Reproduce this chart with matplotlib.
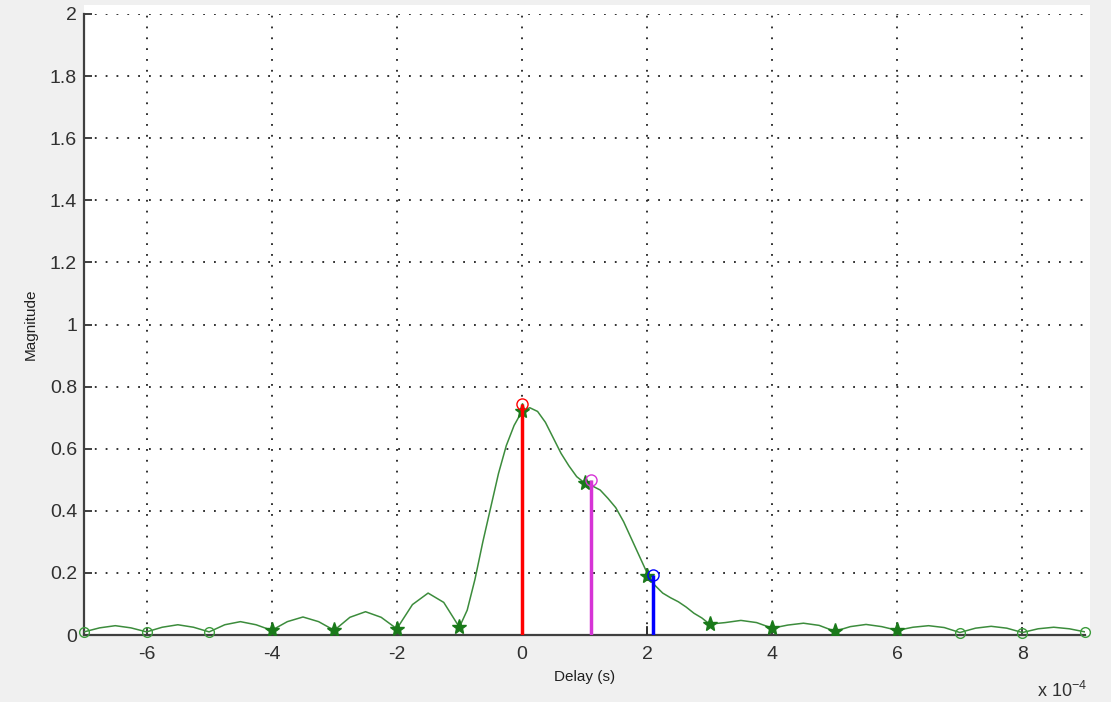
import matplotlib
matplotlib.use("Agg")
import matplotlib.pyplot as plt
from matplotlib.patches import Rectangle

# delay axis in units of 1e-4 s; side lobes read every 0.25, main lobe every 0.125
curve_x = (
    [-7 + i * 0.25 for i in range(24)]      # -7 .. -1.25
    + [-1 + i * 0.125 for i in range(33)]   # -1 .. 3
    + [3.25 + i * 0.25 for i in range(24)]  # 3.25 .. 9
)
curve_y = [
    0.010, 0.023, 0.030, 0.023,   # -7 .. -6.25
    0.010, 0.025, 0.033, 0.025,   # -6
    0.010, 0.033, 0.043, 0.033,   # -5
    0.015, 0.043, 0.058, 0.043,   # -4
    0.015, 0.057, 0.075, 0.057,   # -3
    0.020, 0.098, 0.135, 0.105,   # -2
    # -1 .. 3 step 0.125
    0.025, 0.080, 0.180, 0.300, 0.410, 0.520, 0.610, 0.675,
    0.720, 0.732, 0.720, 0.685, 0.635, 0.585, 0.545, 0.510,
    0.490, 0.480, 0.467, 0.440, 0.410, 0.365, 0.310, 0.255,
    0.200, 0.160, 0.135, 0.120, 0.107, 0.090, 0.070, 0.055,
    0.035,
    # 3.25 .. 9
    0.040, 0.047, 0.040,
    0.022, 0.032, 0.038, 0.031,   # 4
    0.012, 0.027, 0.034, 0.027,   # 5
    0.015, 0.025, 0.030, 0.024,   # 6
    0.008, 0.022, 0.028, 0.022,   # 7
    0.008, 0.020, 0.025, 0.020,   # 8
    0.010,                        # 9
]

star_x = [-4, -3, -2, -1, 0, 1, 2, 3, 4, 5, 6]
star_y = [0.015, 0.015, 0.020, 0.025, 0.720, 0.490, 0.190, 0.035, 0.022, 0.012, 0.015]
ring_x = [-7, -6, -5, 7, 8, 9]
ring_y = [0.010, 0.010, 0.010, 0.008, 0.008, 0.010]

path_x = [0.0, 1.1, 2.1]
path_y = [0.745, 0.50, 0.193]
path_colors = ["#ff0000", "#d633d6", "#0000ff"]
small_x = [2.0]
small_y = [0.03]

plt.rcParams["font.family"] = ["Liberation Sans", "DejaVu Sans"]

fig = plt.figure(figsize=(11.11, 7.02), dpi=100, facecolor="#f0f0f0")
fig.patches.append(Rectangle((84 / 1111, 1 - 635 / 702), (1090 - 84) / 1111, (635 - 5) / 702,
                             transform=fig.transFigure, facecolor="white", edgecolor="none", zorder=-5))
ax = fig.add_axes([84 / 1111, 1 - 635 / 702, 1001 / 1111, 621 / 702])
ax.set_zorder(2)
ax.set_facecolor("white")

s = 1e-4
ax.plot([v * s for v in curve_x], curve_y, color="#3c8c3c", lw=1.1, zorder=3)
ax.plot([v * s for v in star_x], star_y, ls="none", marker="*", ms=11,
        color="#1a7a1a", mec="#1a7a1a", zorder=4)
ax.plot([v * s for v in ring_x], ring_y, ls="none", marker="o", ms=7,
        mfc="none", mec="#3c9c3c", mew=1.0, zorder=4, clip_on=False)

for x, y in zip(small_x, small_y):
    ax.vlines(x * s, 0, y, color="#303030", lw=1.2, zorder=3)
for x, y, c in zip(path_x, path_y, path_colors):
    ax.vlines(x * s, 0, y, color=c, lw=2.5, zorder=5)
    ax.plot([x * s], [y], ls="none", marker="o", ms=8, mfc="none", mec=c, mew=1.0, zorder=6)

ax.set_xlim(-7e-4, 9e-4)
ax.set_ylim(0, 2)
ax.set_xticks([v * s for v in range(-6, 9, 2)])
ax.set_xticklabels([str(v) for v in range(-6, 9, 2)])
yt = [0, 0.2, 0.4, 0.6, 0.8, 1, 1.2, 1.4, 1.6, 1.8, 2]
ax.set_yticks(yt)
ax.set_yticklabels(["0", "0.2", "0.4", "0.6", "0.8", "1", "1.2", "1.4", "1.6", "1.8", "2"])

ax.grid(True, color="#202020", ls=(0, (1, 5)), lw=1.3)
ax.set_axisbelow(True)
for side in ("top", "right"):
    ax.spines[side].set_visible(False)
for side in ("left", "bottom"):
    ax.spines[side].set_color("#404040")
    ax.spines[side].set_linewidth(1.6)
ax.tick_params(direction="in", length=6, width=1.4, color="#404040",
               labelsize=14, labelcolor="#303030")
ax.tick_params(axis="x", pad=8)
ax.tick_params(axis="y", pad=5)

ax.set_xlabel("Delay (s)", fontsize=11, color="#202020", labelpad=5)
ax.set_ylabel("Magnitude", fontsize=11, color="#202020", labelpad=9)
fig.text(1037 / 1111, 1 - 691 / 702, r"x 10$^{\mathregular{-4}}$", fontsize=13, color="#303030",
         va="center", ha="left")

fig.savefig("out.png", dpi=100, facecolor=fig.get_facecolor())
